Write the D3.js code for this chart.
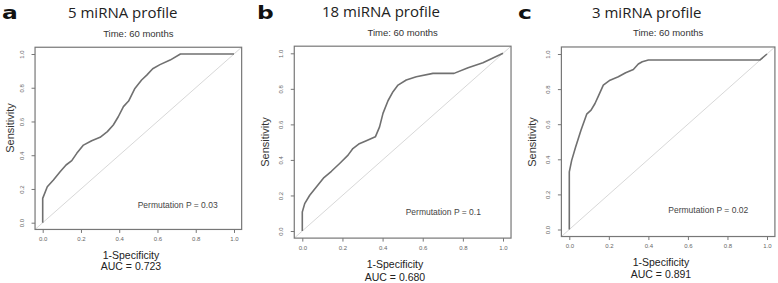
<!DOCTYPE html>
<html>
<head>
<meta charset="utf-8">
<script src="https://cdn.jsdelivr.net/npm/d3@7"></script>
<style>
  body { margin: 0; background: #fff; }
  svg { display: block; }
</style>
</head>
<body>
<div id="fig"></div>
<script>
////////////////////////////////////////////////////////////////////////
// Data (1-specificity, sensitivity)

let fprA = [0, 0, 0.024, 0.056, 0.091, 0.122, 0.152, 0.178, 0.213, 0.256, 0.3, 0.338, 0.369, 0.395, 0.422, 0.449, 0.482, 0.517, 0.544, 0.575, 0.613, 0.666, 0.72, 1]
let tprA = [0, 0.144, 0.213, 0.253, 0.302, 0.342, 0.368, 0.411, 0.46, 0.486, 0.506, 0.54, 0.579, 0.628, 0.688, 0.721, 0.796, 0.846, 0.875, 0.913, 0.937, 0.964, 1, 1]

let fprB = [0, 0, 0.012, 0.037, 0.07, 0.108, 0.145, 0.186, 0.228, 0.252, 0.281, 0.319, 0.364, 0.385, 0.402, 0.427, 0.452, 0.477, 0.518, 0.568, 0.651, 0.756, 0.826, 0.9, 1]
let tprB = [0, 0.107, 0.154, 0.201, 0.248, 0.301, 0.336, 0.38, 0.427, 0.464, 0.489, 0.508, 0.53, 0.586, 0.662, 0.733, 0.784, 0.821, 0.85, 0.868, 0.887, 0.887, 0.919, 0.947, 1]

let fprC = [0, 0, 0.012, 0.032, 0.059, 0.088, 0.11, 0.13, 0.147, 0.172, 0.206, 0.248, 0.285, 0.324, 0.349, 0.369, 0.4, 0.965, 1]
let tprC = [0, 0.328, 0.394, 0.47, 0.566, 0.657, 0.68, 0.718, 0.76, 0.823, 0.851, 0.87, 0.893, 0.912, 0.943, 0.956, 0.966, 0.966, 1]

let letters = ['a', 'b', 'c']
let titles = ['5 miRNA profile', '18 miRNA profile', '3 miRNA profile']
let aucs = ['0.723', '0.680', '0.891']
let perms = ['0.03', '0.1', '0.02']
let tickVals = [0, 0.2, 0.4, 0.6, 0.8, 1]

////////////////////////////////////////////////////////////////////////
// Layout of each panel (pixel positions measured on the figure)

let panels = [
  {
    fpr: fprA, tpr: tprA,
    xr: [42.7, 234], yr: [222.7, 54],
    letter: [2, 18.5], title: [68, 18], time: 37,
    sens: [10, 128], spec: [131, 259], auc: 270, perm: [137.7, 207.5]
  },
  {
    fpr: fprB, tpr: tprB,
    xr: [302.3, 503], yr: [231, 53.3],
    letter: [257, 18.5], title: [322, 17], time: 36,
    sens: [265, 142], spec: [395, 267.5], auc: 280.5, perm: [405.7, 215]
  },
  {
    fpr: fprC, tpr: tprC,
    xr: [569.3, 767], yr: [229.5, 54],
    letter: [518, 18.5], title: [592, 18], time: 36,
    sens: [532, 142], spec: [661, 266], auc: 278, perm: [668.3, 213]
  }
]

let width = 778
let height = 283
let sans = 'Liberation Sans, Arial, sans-serif'

let svg = d3
  .select('#fig')
  .append('svg')
  .attr('width', width)
  .attr('height', height)

panels.forEach(function (p, i) {
  let x = d3.scaleLinear().domain([0, 1]).range(p.xr)
  let y = d3.scaleLinear().domain([0, 1]).range(p.yr)
  let g = svg.append('g')

  // panel letter and heading
  g.append('text')
    .attr('transform', 'translate(' + p.letter[0] + ',' + p.letter[1] + ') scale(1.3,1)')
    .attr('font-family', 'DejaVu Sans, sans-serif')
    .attr('font-weight', 'bold')
    .attr('font-size', 18)
    .attr('fill', '#111')
    .text(letters[i])

  g.append('text')
    .attr('x', p.title[0])
    .attr('y', p.title[1])
    .attr('font-family', 'Open Sans, sans-serif')
    .attr('font-size', 15)
    .attr('fill', '#222')
    .text(titles[i])

  // R style plot box, 4% padding on both axes
  let bx0 = x(-0.04)
  let bx1 = x(1.04)
  let by0 = y(1.04)
  let by1 = y(-0.04)

  g.append('text')
    .attr('x', (bx0 + bx1) / 2)
    .attr('y', p.time)
    .attr('text-anchor', 'middle')
    .attr('font-family', sans)
    .attr('font-size', 9.5)
    .attr('fill', '#333')
    .text('Time: 60 months')

  // reference diagonal
  g.append('path')
    .attr('d', d3.line()([[x(-0.04), y(-0.04)], [x(1.04), y(1.04)]]))
    .attr('stroke', '#d8d8d8')
    .attr('stroke-width', 1)
    .attr('fill', 'none')

  // the ROC curve
  let pts = p.fpr.map((f, k) => [f, p.tpr[k]])
  g.append('path')
    .datum(pts)
    .attr('d', d3.line().x(d => x(d[0])).y(d => y(d[1])))
    .attr('stroke', '#707070')
    .attr('stroke-width', 1.6)
    .attr('stroke-linejoin', 'round')
    .attr('fill', 'none')

  g.append('rect')
    .attr('x', bx0)
    .attr('y', by0)
    .attr('width', bx1 - bx0)
    .attr('height', by1 - by0)
    .attr('fill', 'none')
    .attr('stroke', '#777')
    .attr('stroke-width', 1.2)

  // axes
  let xAxis = g.append('g')
    .attr('transform', 'translate(0,' + by1 + ')')
    .call(d3.axisBottom(x).tickValues(tickVals).tickFormat(d3.format('.1f')).tickSize(3.5).tickPadding(4))
  let yAxis = g.append('g')
    .attr('transform', 'translate(' + bx0 + ',0)')
    .call(d3.axisLeft(y).tickValues(tickVals).tickFormat(d3.format('.1f')).tickSize(3.5))

  ;[xAxis, yAxis].forEach(function (ax) {
    ax.select('.domain').remove()
    ax.selectAll('line').attr('stroke', '#777').attr('stroke-width', 1)
    ax.selectAll('text')
      .attr('font-family', sans)
      .attr('font-size', 6)
      .attr('fill', '#666')
  })
  yAxis.selectAll('text')
    .attr('x', null)
    .attr('dy', null)
    .attr('text-anchor', 'middle')
    .attr('transform', 'translate(-11,0) rotate(-90)')

  // axis titles
  g.append('text')
    .attr('transform', 'translate(' + p.sens[0] + ',' + p.sens[1] + ') rotate(-90)')
    .attr('text-anchor', 'middle')
    .attr('dy', '0.35em')
    .attr('font-family', sans)
    .attr('font-size', 11)
    .attr('fill', '#333')
    .text('Sensitivity')

  g.append('text')
    .attr('x', p.spec[0])
    .attr('y', p.spec[1])
    .attr('text-anchor', 'middle')
    .attr('font-family', sans)
    .attr('font-size', 10.5)
    .attr('fill', '#222')
    .text('1-Specificity')

  g.append('text')
    .attr('x', p.spec[0])
    .attr('y', p.auc)
    .attr('text-anchor', 'middle')
    .attr('font-family', sans)
    .attr('font-size', 10.5)
    .attr('fill', '#222')
    .text('AUC = ' + aucs[i])

  g.append('text')
    .attr('x', p.perm[0])
    .attr('y', p.perm[1])
    .attr('font-family', sans)
    .attr('font-size', 8.5)
    .attr('fill', '#444')
    .text('Permutation P = ' + perms[i])
})
</script>
</body>
</html>
